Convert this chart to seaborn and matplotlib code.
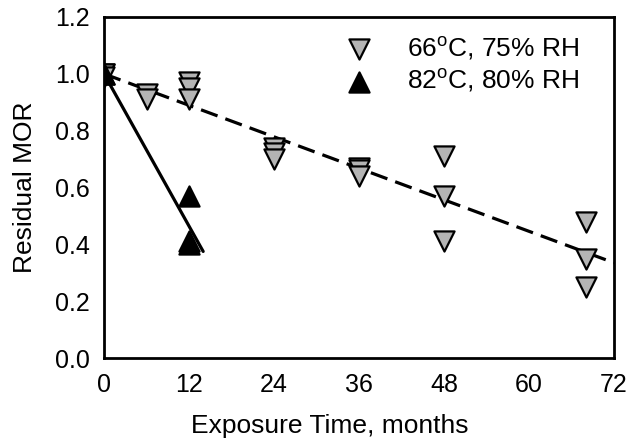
import matplotlib
matplotlib.use("Agg")
import matplotlib.pyplot as plt
import seaborn as sns
import pandas as pd
import numpy as np

# 66°C, 75% RH
t66 = [0, 0, 0, 6, 6, 12, 12, 12, 24, 24, 24, 36, 36, 36, 48, 48, 48, 68, 68, 68]
mor66 = [1.0, 1.0, 0.99, 0.93, 0.91, 0.97, 0.95, 0.91, 0.74, 0.72, 0.70, 0.67, 0.66, 0.64, 0.71, 0.57, 0.41, 0.48, 0.35, 0.25]
# 82°C, 80% RH
t82 = [0, 0, 12, 12, 12]
mor82 = [1.0, 1.0, 0.57, 0.41, 0.40]
# fit lines
fit66_x = [0, 72]
fit66_y = [1.0, 0.335]
fit82_x = [0, 14]
fit82_y = [1.0, 0.375]

labels = ["66$^{\\mathrm{o}}$C, 75% RH", "82$^{\\mathrm{o}}$C, 80% RH"]
xticks = [0, 12, 24, 36, 48, 60, 72]
yticks = [0.0, 0.2, 0.4, 0.6, 0.8, 1.0, 1.2]

sns.set_style("white")
plt.rcParams['font.family'] = ['Liberation Sans', 'DejaVu Sans']
plt.rcParams['mathtext.fontset'] = 'custom'
plt.rcParams['mathtext.rm'] = 'Liberation Sans'
plt.rcParams['mathtext.it'] = 'Liberation Sans:italic'
plt.rcParams['mathtext.bf'] = 'Liberation Sans:bold'
for k in ['text.color', 'axes.labelcolor', 'xtick.color', 'ytick.color']:
    plt.rcParams[k] = 'black'

fig = plt.figure(figsize=(6.37, 4.47), dpi=100)
ax = fig.add_axes([104/637, 1 - 358/447, 510/637, 341/447])

sns.lineplot(x=fit66_x, y=fit66_y, ax=ax, color='black', linewidth=2.3,
             linestyle=(0, (5.5, 2.6)), zorder=2)
sns.lineplot(x=fit82_x, y=fit82_y, ax=ax, color='black', linewidth=2.3, zorder=2)

sns.scatterplot(x=t66, y=mor66, ax=ax, marker='v', s=210, color='#b4b4b4',
                edgecolor='black', linewidth=1.6, zorder=3, label=labels[0])
sns.scatterplot(x=t82, y=mor82, ax=ax, marker='^', s=210, color='black',
                edgecolor='black', linewidth=1.6, zorder=3, label=labels[1])

ax.set_xlim(0, 72)
ax.set_ylim(0, 1.2)
ax.set_xticks(xticks)
ax.set_yticks(yticks)
ax.set_yticklabels([f"{v:.1f}" for v in yticks])
ax.tick_params(direction='in', length=7, width=2, labelsize=18, colors='black')
ax.tick_params(axis='x', pad=11)
ax.tick_params(axis='y', pad=10)
for s in ax.spines.values():
    s.set_linewidth(2)
    s.set_color('black')
ax.set_xlabel("Exposure Time, months", fontsize=19)
ax.set_ylabel("Residual MOR", fontsize=19)
ax.xaxis.set_label_coords((330 - 104) / 510, (358 - 414) / 341)
ax.yaxis.set_label_coords((37 - 104) / 510, 0.5)

leg = ax.legend(loc='upper left', bbox_to_anchor=((333 - 104) / 510, (358 - 35) / 341),
                frameon=False, fontsize=19, handletextpad=0.8, handlelength=2.0,
                labelspacing=0.2, borderaxespad=0, borderpad=0)

fig.savefig("out.png", dpi=100)
